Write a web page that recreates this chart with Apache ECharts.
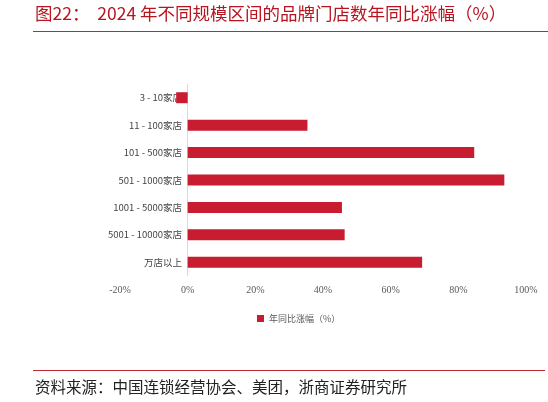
<!DOCTYPE html>
<html>
<head>
<meta charset="utf-8" />
<title>品牌门店数年同比涨幅</title>
<script src="https://cdn.jsdelivr.net/npm/echarts@6/dist/echarts.min.js"></script>
<style>
  html, body { margin: 0; padding: 0; background: #fff; }
  #chart { width: 548px; height: 402px; }
</style>
</head>
<body>
<div id="chart"></div>
<script type="text/javascript">
// 门店规模区间
var categories = ['3 - 10家店', '11 - 100家店', '101 - 500家店', '501 - 1000家店', '1001 - 5000家店', '5001 - 10000家店', '万店以上'];
// 年同比涨幅（%）
var growth = [-3.4, 35.4, 84.7, 93.6, 45.6, 46.4, 69.3];
var xTicks = [-20, 0, 20, 40, 60, 80, 100];

var red = '#c81d31';
var myChart = echarts.init(document.getElementById('chart'));

var option = {
  animation: false,
  backgroundColor: '#fff',
  graphic: [
    // 标题
    {
      type: 'text', left: 35, top: 5,
      style: {
        text: '图22：  2024 年不同规模区间的品牌门店数年同比涨幅（%）',
        fill: '#b8141f', font: '17.5px "Noto Sans CJK SC"'
      }
    },
    { type: 'rect', shape: { x: 33, y: 31, width: 515, height: 1 }, style: { fill: '#c0282f' } },
    { type: 'rect', shape: { x: 33, y: 370, width: 512, height: 1 }, style: { fill: '#c0282f' } },
    // 资料来源
    {
      type: 'text', left: 35, top: 379,
      style: {
        text: '资料来源：中国连锁经营协会、美团，浙商证券研究所',
        fill: '#222', font: '15.5px "Noto Sans CJK SC"'
      }
    }
  ],
  legend: {
    left: 252, top: 309,
    itemWidth: 7, itemHeight: 7, itemGap: 4,
    icon: 'rect',
    textStyle: { color: '#595959', fontSize: 9, fontFamily: 'Noto Sans CJK SC' },
    data: ['年同比涨幅（%）']
  },
  grid: { left: 120, right: 22, top: 84, height: 192, containLabel: false },
  xAxis: {
    type: 'value',
    min: xTicks[0], max: xTicks[xTicks.length - 1], interval: 20,
    axisLine: { show: false },
    axisTick: { show: false },
    splitLine: { show: false },
    axisLabel: {
      color: '#595959', fontSize: 10, fontFamily: 'Liberation Serif', margin: 9,
      formatter: function (v) { return v + '%'; }
    }
  },
  yAxis: {
    type: 'category',
    data: categories,
    inverse: true,
    axisLine: { show: true, onZero: true, lineStyle: { color: '#d9d9d9', width: 1 } },
    axisTick: { show: false },
    // 标签贴着 0% 处的轴线
    axisLabel: { color: '#444', fontSize: 9.5, fontFamily: 'Noto Sans CJK SC', margin: -62 }
  },
  series: [{
    name: '年同比涨幅（%）',
    type: 'bar',
    data: growth,
    barWidth: 11,
    itemStyle: { color: red }
  }]
};
myChart.setOption(option);
</script>
</body>
</html>
